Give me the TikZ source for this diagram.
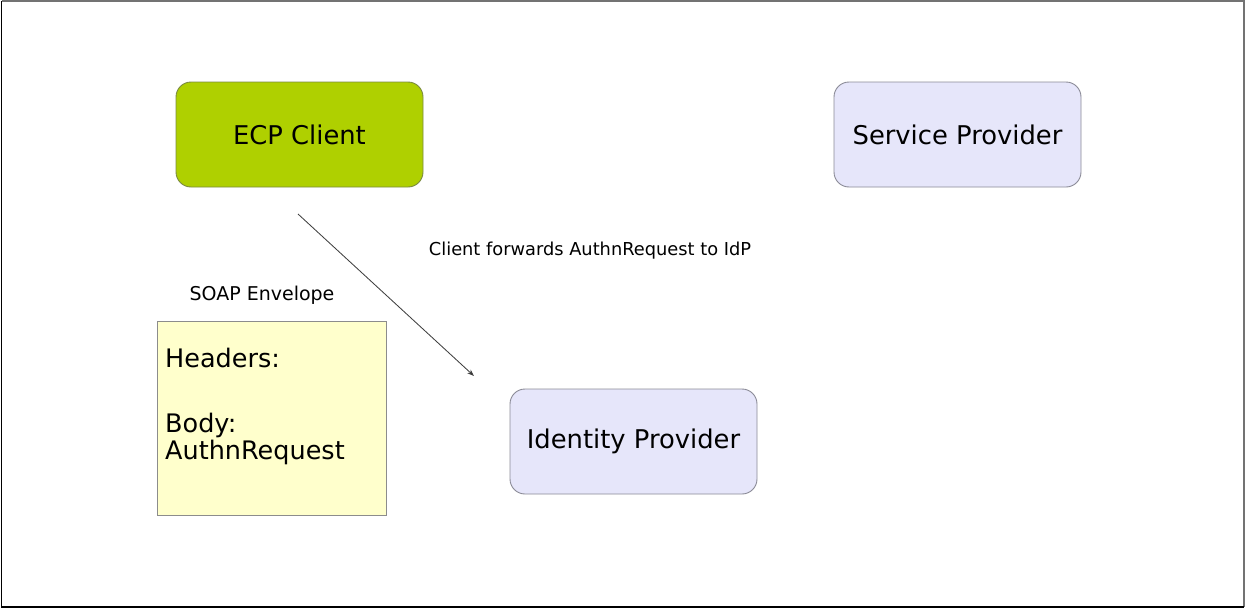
\documentclass[tikz,border=0pt]{standalone}
\usepackage{fontspec}
\setmainfont{DejaVu Sans}
\usetikzlibrary{arrows.meta}
\definecolor{ecpgreen}{HTML}{AFD000}
\definecolor{ecpborder}{HTML}{7A8A40}
\definecolor{lav}{HTML}{E6E6FA}
\definecolor{lavborder}{HTML}{8A8A96}
\definecolor{envyellow}{HTML}{FFFFCC}
\definecolor{envborder}{HTML}{8C8C8C}
\tikzset{
  actor/.style={draw=lavborder, fill=lav, rounded corners=15pt, line width=0.9pt,
    minimum width=247pt, minimum height=105pt, inner sep=0pt,
    font=\fontsize{25.8}{30}\selectfont},
  ecp/.style={actor, fill=ecpgreen, draw=ecpborder},
  envbox/.style={draw=envborder, fill=envyellow, line width=0.9pt,
    minimum width=229pt, minimum height=194pt, inner sep=0pt},
  envtext/.style={anchor=north west, align=left, inner sep=0pt,
    font=\fontsize{25.5}{27}\selectfont},
  lbl/.style={inner sep=0pt, anchor=base},
  flow/.style={draw=black!75, line width=0.85pt, -{Stealth[length=7pt,width=5pt,fill=black]}}
}
\begin{document}
\begin{tikzpicture}[x=1pt,y=-1pt]
\useasboundingbox (0,0) rectangle (1245,608);
\draw[line width=1.5pt, black!55] (1.5,0.75) -- (1244,0.75) -- (1244,607);
\draw[line width=1.5pt] (1.5,0.75) -- (1.5,607) -- (1244,607);
\node[ecp] (ecp) at (299.5,134.5) {ECP Client};
\node[actor] (sp) at (957.5,134.5) {Service Provider};
\node[actor] (idp) at (633.5,441.5) {\raisebox{-2pt}{Identity Provider}};
\node[envbox] (env) at (271.5,418) {};
\node[envtext] (envt) at (165,347.5) {Headers:\\[38pt]Body:\\AuthnRequest};
\node[lbl, font=\fontsize{19}{22}\selectfont] (envlbl) at (262,300.5) {SOAP Envelope};
\node[lbl, font=\fontsize{17.8}{21}\selectfont] (msg) at (590,255.5) {Client forwards AuthnRequest to IdP};
\coordinate (s) at (298,214);
\coordinate (t) at (474,376);
\draw[flow] (s) -- (t);
\end{tikzpicture}
\end{document}
